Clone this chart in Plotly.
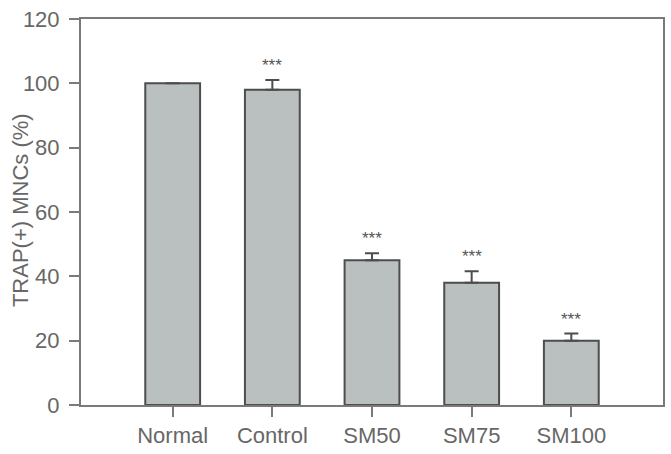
import plotly.graph_objects as go

categories = ["Normal", "Control", "SM50", "SM75", "SM100"]
values = [100, 98, 45, 38, 20]
errors = [0, 3, 2.2, 3.6, 2.2]
stars = ["", "***", "***", "***", "***"]
y_ticks = [0, 20, 40, 60, 80, 100, 120]
y_title = "TRAP(+) MNCs (%)"

AXIS = "#7a7a7a"
TEXT = "#676767"
BAR = "#b9c0bf"
EDGE = "#4d4d4d"
FONT = "Liberation Sans, Arial, sans-serif"

fig = go.Figure()
fig.add_trace(go.Bar(
    x=categories, y=values, width=0.55,
    marker=dict(color=BAR, line=dict(color=EDGE, width=2)),
    error_y=dict(type="data", array=errors, arrayminus=[0] * len(errors),
                 symmetric=False, color=EDGE, thickness=2, width=7,
                 visible=True),
    showlegend=False,
))

for c, v, e, s in zip(categories, values, errors, stars):
    if s:
        fig.add_annotation(x=c, y=v + e, text=s, showarrow=False,
                           yanchor="bottom", yshift=3,
                           font=dict(family=FONT, size=17, color="#555555"))

fig.add_annotation(xref="paper", yref="paper", x=0, y=0.505, xshift=-61,
                   text=y_title, textangle=-90, showarrow=False,
                   xanchor="center", yanchor="middle",
                   font=dict(family=FONT, size=22, color=TEXT))

fig.update_layout(
    width=671, height=454,
    margin=dict(l=81, r=6, t=19, b=46),
    plot_bgcolor="white", paper_bgcolor="white",
    font=dict(family=FONT, size=22, color=TEXT),
    bargap=0.45,
)
fig.update_xaxes(
    type="category", range=[-0.92, 4.92],
    showline=True, linecolor=AXIS, linewidth=2, mirror=True,
    ticks="outside", ticklen=10, tickwidth=2, tickcolor=AXIS,
    showgrid=False, tickfont=dict(family=FONT, size=22, color=TEXT),
)
fig.update_yaxes(
    range=[0, 120], tickvals=y_ticks,
    showline=True, linecolor=AXIS, linewidth=2, mirror=True,
    ticks="outside", ticklen=10, tickwidth=2, tickcolor=AXIS,
    ticklabelstandoff=5,
    showgrid=False, zeroline=False,
    tickfont=dict(family=FONT, size=22, color=TEXT),
)

fig.write_html("out.html")
